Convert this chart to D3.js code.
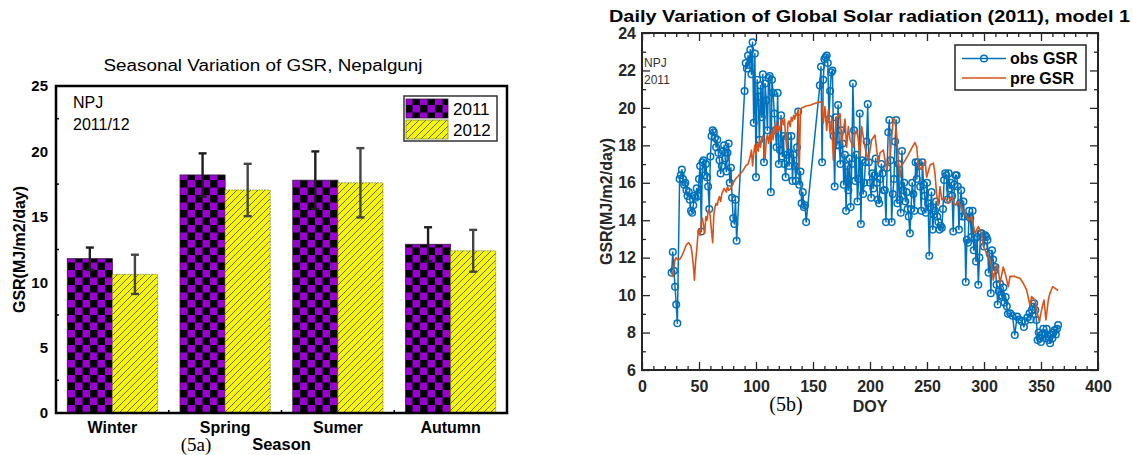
<!DOCTYPE html>
<html>
<head>
<meta charset="utf-8">
<script src="https://cdn.jsdelivr.net/npm/d3@7"></script>
<style>
body{margin:0;background:#fff;}
svg{display:block;}
</style>
</head>
<body>
<svg id="fig" width="1133" height="455"></svg>
<script>
// ---- data (5a) seasonal means
var seasons = ["Winter", "Spring", "Sumer", "Autumn"];
var years = ["2011", "2012"];
var gsr2011 = [11.8, 18.2, 17.8, 12.9];
var gsr2012 = [10.6, 17.05, 17.6, 12.4];
var err2011 = [0.85, 1.65, 2.2, 1.3];
var err2012 = [1.5, 2.0, 2.65, 1.6];
var ticksA = [0, 5, 10, 15, 20, 25];

// ---- data (5b) daily values [DOY, GSR]
var obsGSR = [
 [26,11.2],[27,12.3],[28,11.3],[29,10.45],[30,9.5],[31,8.5],
 [33,16.2],[34,16.4],[35,16.7],[36,16.2],[37,15.9],[38,16.0],[39,15.6],[40,15.3],[41,15.5],[42,15.1],[43,14.5],[44,14.4],[45,14.8],[46,15.3],[47,15.2],[48,15.7],[49,15.3],[50,16.2],[51,16.9],[52,13.4],[53,17.1],[54,17.2],[55,16.4],[56,17.0],[57,16.3],[58,15.8],[59,14.6],[60,17.4],[61,18.5],[62,18.8],[63,18.7],[64,18.4],[65,17.9],[66,18.3],[67,17.6],[68,17.2],[69,16.5],[70,16.9],[71,17.7],[72,18.0],[73,17.3],[74,16.6],[75,17.6],[76,18.1],[77,16.0],[78,16.8],[79,15.2],[80,14.1],[81,13.8],[82,15.1],[83,12.9],
 [90,20.9],[91,22.4],[92,22.1],[93,22.8],[94,22.3],[95,23.1],[96,21.8],[97,23.5],[98,19.2],[99,22.9],[100,16.3],[101,21.5],[102,20.6],[103,18.3],[104,21.2],[105,19.5],[106,21.8],[107,17.1],[108,21.3],[109,20.4],[110,18.8],[111,21.6],[112,21.7],[113,15.5],[114,21.5],[115,20.8],[116,19.7],[117,18.8],[118,17.9],[119,20.8],[120,17.0],[121,17.75],[122,19.6],[123,17.4],[124,18.5],[125,17.0],[126,16.3],[127,17.5],[128,18.5],[129,16.9],[130,17.6],[131,18.5],[132,16.1],[133,17.5],[134,16.9],[135,16.1],[136,17.9],[137,19.8],[138,15.9],[139,16.6],[140,14.9],[141,15.5],[142,14.7],[143,14.8],[144,13.9],
 [156,21.2],[157,22.2],[158,17.1],[159,21.5],[160,22.6],[161,22.7],[162,22.8],[163,22.4],[164,19.4],[165,20.9],[166,21.9],[167,22.0],[168,18.5],[169,15.8],[170,19.5],[171,18.0],[172,20.15],[173,18.0],[174,17.0],[175,18.8],[176,18.1],[177,15.9],[178,17.5],[179,14.5],[180,16.9],[181,15.6],[182,17.3],[183,14.7],[184,17.0],[185,21.3],[186,18.8],[187,16.1],[188,17.5],[189,15.0],[190,16.2],[191,19.7],[192,13.8],[193,17.2],[194,15.4],[195,16.0],[196,17.1],[197,18.2],[198,20.2],[199,17.1],[200,16.0],[201,15.2],[202,16.5],[203,15.7],[204,16.4],[205,17.3],[206,16.0],[207,15.1],[208,14.9],[209,16.2],[210,17.0],[211,16.5],[212,15.6],[213,15.6],[214,13.9],[215,16.8],[216,18.7],[217,19.35],[218,17.2],[219,13.9],[220,15.4],[221,16.2],[222,18.2],[223,19.35],[224,14.9],[225,17.0],[226,15.1],[227,14.4],[228,17.7],[229,15.6],[230,16.0],[231,15.0],[232,15.5],[233,14.6],[234,14.2],[235,13.3],[236,14.6],[237,16.0],[238,15.4],[239,14.5],[240,17.1],[241,16.2],[242,17.1],[243,16.9],[244,15.8],[245,14.5],[246,17.1],[247,15.9],[248,15.3],[249,14.4],[250,16.0],[251,14.9],[252,12.1],[253,14.7],[254,15.5],[255,13.5],[256,14.3],[257,14.5],[258,15.0],[259,14.2],[260,13.9],[261,13.5],[262,13.7],[263,13.6],[264,14.6],[265,16.15],[266,16.5],[267,16.4],[268,15.1],[269,16.5],[270,15.7],[271,16.0],[272,15.3],[273,13.4],[274,15.9],[275,16.4],
 [276,16.4],[277,15.8],[278,13.5],[279,14.9],[280,15.6],[281,14.2],[282,15.0],[283,14.2],[284,10.7],[285,12.95],[286,12.8],[287,14.5],[288,14.1],[289,13.1],[290,14.5],[291,12.4],[292,13.0],[293,11.8],[294,13.1],[295,10.55],[296,12.0],[297,13.3],[298,13.3],[299,13.1],[300,12.6],[301,13.2],[302,13.1],[303,12.95],[304,11.2],[305,12.2],[306,10.1],[307,12.4],[308,11.9],[309,11.3],[310,11.5],[311,10.55],[312,9.5],[313,10.2],[314,10.6],[315,10.0],[316,9.9],[317,10.4],[318,9.6],[319,9.9],[320,9.4],[321,9.0],[323,9.03],[325,8.9],[327,7.87],[329,8.85],[331,8.7],[333,8.6],[335,8.3],[336,8.6],[338,8.8],[340,9.03],[341,8.7],[342,9.2],[343,9.38],[344,9.56],[345,9.2],[346,8.67],[347,7.6],[348,8.0],[349,7.7],[350,7.5],[351,7.9],[352,8.2],[353,7.96],[354,7.7],[355,8.2],[356,7.8],[357,7.6],[358,7.43],[359,7.87],[360,7.7],[361,8.0],[362,8.14],[363,7.9],[364,8.2],[365,8.4]
];
var preGSR = [
 [26,11.26],[27,11.0],[28,11.5],[29,11.9],[30,12.0],[31,11.9],[33,11.9],[35,12.1],[37,12.4],[39,12.7],[41,12.8],[43,12.6],[44,12.2],[45,11.6],[46,10.8],[47,11.8],[48,12.4],[49,13.2],[50,13.5],[51,13.2],[52,13.9],[53,14.1],[54,13.7],[55,13.3],[56,14.2],[57,14.0],[58,14.5],[59,14.6],[60,14.1],[61,13.4],[62,12.8],[63,14.3],[64,14.7],[65,14.9],[66,14.8],[67,15.1],[68,15.26],[69,15.0],[70,15.4],[72,15.7],[74,15.5],[75,15.8],[76,15.6],[78,15.7],[80,16.0],[82,16.2],[85,16.4],[88,16.6],[91,16.9],[93,17.0],[95,17.4],[96,17.75],[97,16.9],[98,17.6],[99,18.0],[100,17.5],[101,18.1],[102,17.7],[103,18.3],[104,17.9],[105,18.4],[106,18.5],[107,18.0],[108,17.3],[109,18.3],[110,18.55],[111,18.1],[112,18.6],[113,18.2],[114,18.8],[115,18.3],[116,19.0],[117,18.6],[118,19.2],[119,18.7],[120,19.0],[121,18.8],[122,19.3],[123,19.4],[124,19.1],[125,19.4],[126,18.4],[127,17.85],[128,19.2],[129,19.3],[130,19.0],[131,19.5],[132,19.3],[133,19.6],[134,19.4],[135,19.7],[136,19.6],[137,19.9],[138,16.8],[139,19.8],[140,20.0],[144,20.1],[148,20.15],[152,20.25],[157.6,20.34],
 [159.1,19.2],[160.5,20.07],[162,18.8],[163.5,19.9],[164.9,18.65],[166.4,19.4],[167.8,17.2],[169.3,18.5],[170.8,19.5],[173.7,19.7],[175.2,18.1],[176.6,18.8],[178.1,19.4],[179.5,17.9],[181,19.0],[182.5,18.3],[185.4,17.9],[186.8,18.65],[188.3,18.8],[189.8,18.3],[191.2,17.4],[192.7,19.0],[195.6,17.9],[198.5,17.2],[201.5,18.3],[204.4,18.55],[207.3,17.0],[208.8,17.6],[211.7,17.75],[214.6,16.7],[217.6,17.4],[220.5,19.45],[221.9,19.35],[223.4,18.5],[224.9,17.2],[226.3,16.3],[227.8,16.9],[230.7,17.2],[233.6,17.5],[236.6,17.85],[239.5,18.15],[241,17.9],[242.4,16.9],[245.4,16.7],[248.3,17.2],[249.7,16.3],[252.7,16.95],[255.6,17.05],[257,16.5],[258.5,15.35],[260,14.8],[261.4,15.8],[262.9,15.1],[265.8,15.2],[268.7,14.9],[271.7,15.26],[274.6,14.8],[277.5,15.0],[280.4,14.7],[283.3,14.37],[286.3,14.0],[289.2,14.2],[292.1,13.3],[295,13.66],
 [297.9,13.3],[299.4,12.6],[302.3,12.24],[305.2,11.9],[306.7,11.5],[308.1,10.8],[311,11.6],[312.5,11.4],[314,10.63],[316.9,11.5],[318.4,11.2],[321.3,10.45],[322.8,11.0],[327.1,11.0],[331.5,10.9],[334.5,10.63],[337.4,10.27],[340.3,9.47],[341.8,9.92],[344.7,9.74],[346.2,9.2],[348.5,8.6],[350.5,9.2],[352.6,9.74],[354.3,8.67],[356.4,9.74],[357.8,10.1],[360.2,10.45],[362.2,10.37],[364.3,10.27],[365,10.3]
];
var ticksBx = [0, 50, 100, 150, 200, 250, 300, 350, 400];
var ticksBy = [6, 8, 10, 12, 14, 16, 18, 20, 22, 24];

var SANS = "'Liberation Sans', Arial, Helvetica, sans-serif";
var SERIF = "'Liberation Serif', 'Times New Roman', serif";
var svg = d3.select("#fig").style("font-family", SANS);
svg.append("rect").attr("width", 1133).attr("height", 455).attr("fill", "#fff");

// patterns
var defs = svg.append("defs");
var chk = defs.append("pattern").attr("id", "chk")
    .attr("patternUnits", "userSpaceOnUse").attr("width", 15).attr("height", 15);
chk.append("rect").attr("width", 15).attr("height", 15).attr("fill", "#9b00d3");
chk.append("rect").attr("width", 7.5).attr("height", 7.5).attr("fill", "#000");
chk.append("rect").attr("x", 7.5).attr("y", 7.5).attr("width", 7.5).attr("height", 7.5).attr("fill", "#000");
var hat = defs.append("pattern").attr("id", "hat")
    .attr("patternUnits", "userSpaceOnUse").attr("width", 7).attr("height", 7);
hat.append("rect").attr("width", 7).attr("height", 7).attr("fill", "#f6f600");
hat.append("path").attr("d", "M-1,1L1,-1M0,7L7,0M6,8L8,6")
    .attr("stroke", "#555").attr("stroke-width", 0.9);
var fills = {"2011": "url(#chk)", "2012": "url(#hat)"};

// ================= (5a) =================
var A = {l: 56, r: 507, t: 86, b: 413};
var xA = d3.scaleBand().domain(seasons).range([A.l, A.r]).paddingInner(0.2).paddingOuter(0.1);
var xSub = d3.scaleBand().domain(years).range([0, xA.bandwidth()]);
var yA = d3.scaleLinear().domain([0, 25]).range([A.b, A.t]);
var gA = svg.append("g");

var barRows = [];
seasons.forEach(function(s, i){
    barRows.push({season: s, year: "2011", v: gsr2011[i], e: err2011[i]});
    barRows.push({season: s, year: "2012", v: gsr2012[i], e: err2012[i]});
});

gA.selectAll(".bar").data(barRows).enter().append("rect")
    .attr("x", function(d){ return xA(d.season) + xSub(d.year); })
    .attr("y", function(d){ return yA(d.v); })
    .attr("width", xSub.bandwidth())
    .attr("height", function(d){ return yA(0) - yA(d.v); })
    .attr("fill", function(d){ return fills[d.year]; })
    .attr("stroke", function(d){ return d.year == "2011" ? "#3a1a40" : "#7d8c3c"; })
    .attr("stroke-width", 0.8)
    .attr("stroke-dasharray", function(d){ return d.year == "2011" ? null : "2,1"; });

// error bars
var eb = gA.selectAll(".eb").data(barRows).enter().append("g")
    .attr("stroke", function(d){ return d.year == "2011" ? "#1e1e1e" : "#444"; })
    .attr("stroke-width", 2.4);
eb.append("line")
    .attr("x1", function(d){ return xA(d.season) + xSub(d.year) + xSub.bandwidth()/2; })
    .attr("x2", function(d){ return xA(d.season) + xSub(d.year) + xSub.bandwidth()/2; })
    .attr("y1", function(d){ return yA(d.v - d.e); })
    .attr("y2", function(d){ return yA(d.v + d.e); });
[-1, 1].forEach(function(sg){
    eb.append("line")
        .attr("x1", function(d){ return xA(d.season) + xSub(d.year) + xSub.bandwidth()/2 - 4; })
        .attr("x2", function(d){ return xA(d.season) + xSub(d.year) + xSub.bandwidth()/2 + 4; })
        .attr("y1", function(d){ return yA(d.v + sg*d.e); })
        .attr("y2", function(d){ return yA(d.v + sg*d.e); });
});

// minor ticks (inside)
gA.selectAll(".mt").data(d3.range(2.5, 25, 5)).enter().append("line")
    .attr("x1", A.l).attr("x2", A.l + 3)
    .attr("y1", function(d){ return yA(d); }).attr("y2", function(d){ return yA(d); })
    .attr("stroke", "#000").attr("stroke-width", 1.5);
gA.selectAll(".ct").data(seasons.slice(1)).enter().append("line")
    .attr("x1", function(d){ return xA(d) - xA.step()*xA.paddingInner()/2; })
    .attr("x2", function(d){ return xA(d) - xA.step()*xA.paddingInner()/2; })
    .attr("y1", A.b).attr("y2", A.b - 3)
    .attr("stroke", "#000").attr("stroke-width", 1.5);

// frame
gA.append("rect").attr("x", A.l).attr("y", A.t).attr("width", A.r - A.l).attr("height", A.b - A.t)
    .attr("fill", "none").attr("stroke", "#000").attr("stroke-width", 2.5);

// axes labels
var axLA = gA.append("g").attr("transform", "translate(" + A.l + ",0)")
    .call(d3.axisLeft(yA).tickValues(ticksA).tickSize(0).tickPadding(8));
axLA.select(".domain").remove();
axLA.selectAll("text").attr("font-size", 15).attr("font-weight", "bold").attr("font-family", SANS).attr("fill", "#000");
var axBA = gA.append("g").attr("transform", "translate(0," + A.b + ")")
    .call(d3.axisBottom(xA).tickSize(0).tickPadding(9));
axBA.select(".domain").remove();
axBA.selectAll("text").attr("font-size", 16).attr("font-weight", "bold").attr("font-family", SANS).attr("fill", "#000");

gA.append("text").attr("x", 263).attr("y", 70.5).attr("text-anchor", "middle")
    .attr("font-size", 16).attr("textLength", 319).attr("lengthAdjust", "spacingAndGlyphs")
    .text("Seasonal Variation of GSR, Nepalgunj");
gA.append("text").attr("transform", "translate(25," + ((A.t + A.b)/2) + ") rotate(-90)")
    .attr("text-anchor", "middle").attr("font-size", 16).attr("font-weight", "bold")
    .text("GSR(MJ/m2/day)");
gA.append("text").attr("x", (A.l + A.r)/2).attr("y", 450).attr("text-anchor", "middle")
    .attr("font-size", 16.5).attr("font-weight", "bold").text("Season");
gA.append("text").attr("x", 196).attr("y", 451).attr("text-anchor", "middle")
    .attr("font-family", SERIF).attr("font-size", 19).text("(5a)");
gA.append("text").attr("x", 73).attr("y", 108).attr("font-size", 16).text("NPJ");
gA.append("text").attr("x", 73).attr("y", 130).attr("font-size", 16).text("2011/12");

// legend
var lgA = gA.append("g");
lgA.append("rect").attr("x", 404).attr("y", 96).attr("width", 93).attr("height", 45)
    .attr("fill", "#fff").attr("stroke", "#333").attr("stroke-width", 1.5);
years.forEach(function(yr, i){
    lgA.append("rect").attr("x", 406).attr("y", 99 + i*21).attr("width", 42).attr("height", 19)
        .attr("fill", fills[yr]).attr("stroke", i == 0 ? "#3a1a40" : "#7d8c3c").attr("stroke-width", 0.8);
    lgA.append("text").attr("x", 453).attr("y", 115 + i*21).attr("font-size", 17).text(yr);
});

// ================= (5b) =================
var B = {l: 642, r: 1098, t: 33, b: 370};
var xB = d3.scaleLinear().domain([0, 400]).range([B.l, B.r]);
var yB = d3.scaleLinear().domain([6, 24]).range([B.b, B.t]);
var gB = svg.append("g");
var blue = "#0072bd", orange = "#d95319", axc = "#262626";

var line = d3.line().x(function(d){ return xB(d[0]); }).y(function(d){ return yB(d[1]); });
gB.append("path").datum(obsGSR).attr("d", line)
    .attr("fill", "none").attr("stroke", blue).attr("stroke-width", 1.5).attr("stroke-linejoin", "round");
gB.selectAll(".mk").data(obsGSR).enter().append("circle")
    .attr("cx", function(d){ return xB(d[0]); }).attr("cy", function(d){ return yB(d[1]); })
    .attr("r", 3.3).attr("fill", "none").attr("stroke", blue).attr("stroke-width", 1.5);
gB.append("path").datum(preGSR).attr("d", line)
    .attr("fill", "none").attr("stroke", orange).attr("stroke-width", 1.6).attr("stroke-linejoin", "round");

// inside ticks on all four sides
var minorX = d3.range(10, 400, 10).filter(function(v){ return v % 50 != 0; });
var minorY = d3.range(7, 24, 2);
function tickAxis(gen, scale, vals, size, pos){
    var g = gB.append("g").attr("transform", pos)
        .call(gen(scale).tickValues(vals).tickSize(size).tickFormat(""));
    g.select(".domain").remove();
    g.selectAll("line").attr("stroke", axc).attr("stroke-width", 1.3);
    return g;
}
tickAxis(d3.axisBottom, xB, ticksBx, -8, "translate(0," + B.b + ")");
tickAxis(d3.axisBottom, xB, minorX, -4, "translate(0," + B.b + ")");
tickAxis(d3.axisTop, xB, ticksBx, -8, "translate(0," + B.t + ")");
tickAxis(d3.axisTop, xB, minorX, -4, "translate(0," + B.t + ")");
tickAxis(d3.axisLeft, yB, ticksBy, -8, "translate(" + B.l + ",0)");
tickAxis(d3.axisLeft, yB, minorY, -4, "translate(" + B.l + ",0)");
tickAxis(d3.axisRight, yB, ticksBy, -8, "translate(" + B.r + ",0)");
tickAxis(d3.axisRight, yB, minorY, -4, "translate(" + B.r + ",0)");

gB.append("rect").attr("x", B.l).attr("y", B.t).attr("width", B.r - B.l).attr("height", B.b - B.t)
    .attr("fill", "none").attr("stroke", axc).attr("stroke-width", 2);

// tick labels
var axBB = gB.append("g").attr("transform", "translate(0," + B.b + ")")
    .call(d3.axisBottom(xB).tickValues(ticksBx).tickSize(0).tickPadding(10.5));
axBB.select(".domain").remove();
axBB.selectAll("text").attr("font-size", 16).attr("font-weight", "bold").attr("font-family", SANS).attr("fill", axc);
var axLB = gB.append("g").attr("transform", "translate(" + B.l + ",0)")
    .call(d3.axisLeft(yB).tickValues(ticksBy).tickSize(0).tickPadding(6));
axLB.select(".domain").remove();
axLB.selectAll("text").attr("font-size", 16).attr("font-weight", "bold").attr("font-family", SANS).attr("fill", axc);

gB.append("text").attr("x", 609).attr("y", 22)
    .attr("font-size", 16).attr("font-weight", "bold")
    .attr("textLength", 521).attr("lengthAdjust", "spacingAndGlyphs")
    .text("Daily Variation of Global Solar radiation (2011), model 1");
gB.append("text").attr("transform", "translate(612," + ((B.t + B.b)/2) + ") rotate(-90)")
    .attr("text-anchor", "middle").attr("font-size", 16).attr("font-weight", "bold").attr("fill", axc)
    .text("GSR(MJ/m2/day)");
gB.append("text").attr("x", (B.l + B.r)/2).attr("y", 412).attr("text-anchor", "middle")
    .attr("font-size", 16).attr("font-weight", "bold").attr("fill", axc).text("DOY");
gB.append("text").attr("x", 786).attr("y", 411).attr("text-anchor", "middle")
    .attr("font-family", SERIF).attr("font-size", 20).text("(5b)");
gB.append("text").attr("x", 644).attr("y", 66.5).attr("font-size", 12).attr("fill", "#333").text("NPJ");
gB.append("text").attr("x", 644).attr("y", 84).attr("font-size", 12).attr("fill", "#333").text("2011");

// legend
var lgB = gB.append("g");
lgB.append("rect").attr("x", 955).attr("y", 45).attr("width", 131).attr("height", 45)
    .attr("fill", "#fff").attr("stroke", axc).attr("stroke-width", 1.5);
var legB = [{name: "obs GSR", color: blue, marker: true}, {name: "pre GSR", color: orange, marker: false}];
legB.forEach(function(d, i){
    var yy = 58.5 + i*19.5;
    lgB.append("line").attr("x1", 962).attr("x2", 1006).attr("y1", yy).attr("y2", yy)
        .attr("stroke", d.color).attr("stroke-width", 1.6);
    if(d.marker){
        lgB.append("circle").attr("cx", 984).attr("cy", yy).attr("r", 3.3)
            .attr("fill", "none").attr("stroke", d.color).attr("stroke-width", 1.5);
    }
    lgB.append("text").attr("x", 1010).attr("y", yy + 5.5).attr("font-size", 16)
        .attr("font-weight", "bold").attr("fill", "#000").text(d.name);
});
</script>
</body>
</html>
